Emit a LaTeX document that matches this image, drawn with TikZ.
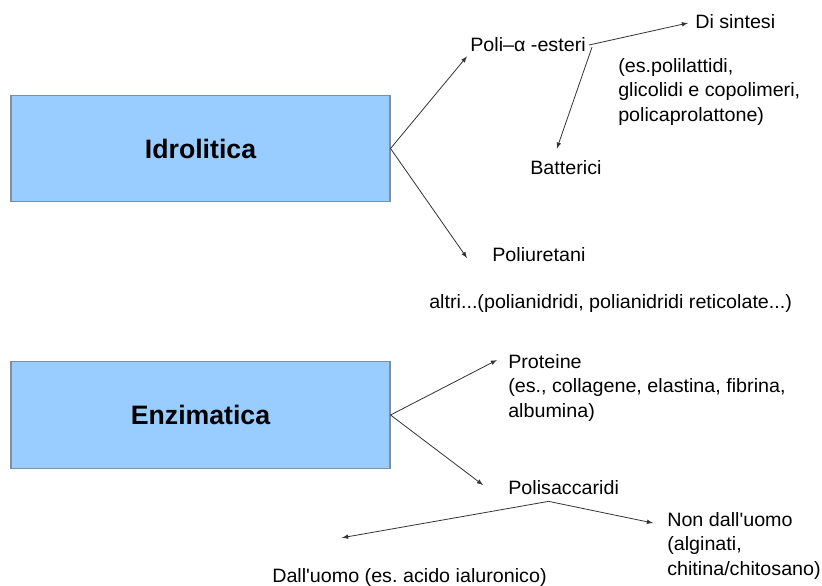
\documentclass[tikz,border=0pt]{standalone}
\usepackage{fontspec}
\setmainfont{Liberation Sans}[FakeStretch=1.02]
\newfontfamily\boxfont{Liberation Sans}
\usetikzlibrary{calc}
\definecolor{boxblue}{HTML}{99CCFF}
\definecolor{boxline}{HTML}{7F8FA0}
\definecolor{arrowgray}{HTML}{333333}
\frenchspacing

\tikzset{
  kindbox/.style={draw=boxline,fill=boxblue,line width=0.8pt,minimum width=284.25pt,minimum height=80pt,font=\boxfont\bfseries\fontsize{20}{24}\selectfont},
  label/.style={anchor=west,inner sep=0pt,font=\fontsize{14.5}{18.5}\selectfont},
  block/.style={anchor=north west,inner sep=0pt,align=left,font=\fontsize{14.5}{18.5}\selectfont},
  branch/.style={->,>=latex,arrowgray,line width=0.6pt},
}

\begin{document}
\begin{tikzpicture}[x=0.75pt,y=-0.75pt]
\useasboundingbox (0,0) rectangle (822,586);
% the two kinds
\node[kindbox] (idro) at (200.5,148.5) {Idrolitica};
\node[kindbox] (enzi) at (200.5,415) {Enzimatica};

% idrolitica
\node[label] (poli) at (470,45) {Poli–α -esteri};
\node[label] (sintesi) at (695,22) {Di sintesi};
\node[block] (es) at (618,58) {(es.polilattidi,\\glicolidi e copolimeri,\\policaprolattone)};
\node[label] (batt) at (530,168) {Batterici};
\node[label] (poliur) at (492,255) {Poliuretani};
\node[label] (altri) at (429,303) {altri...(polianidridi, polianidridi reticolate...)};

\draw[branch] (idro.east) -- ($(poli.south west)+(-3,4)$);
\draw[branch] (idro.east) -- ($(poliur.west)+(-25,3)$);
\draw[branch] ($(poli.east)+(3,0)$) -- ($(sintesi.west)+(-7,1)$);
\draw[branch] ($(poli.east)+(6,2)$) -- ($(batt.north)+(-9,-12)$);

% enzimatica
\node[block] (prot) at (508,354) {Proteine\\(es., collagene, elastina, fibrina,\\albumina)};
\node[label] (polis) at (508,488) {Polisaccaridi};
\node[block] (nondall) at (667,512) {Non dall\textquotesingle uomo\\(alginati,\\chitina/chitosano)};
\node[label] (dall) at (272,577) {Dall\textquotesingle uomo (es. acido ialuronico)};
\coordinate (split) at ($(polis.south)+(-15,6)$);

\draw[branch] (enzi.east) -- ($(prot.north west)+(-11,6)$);
\draw[branch] (enzi.east) -- ($(polis.west)+(-25,-3)$);
\draw[branch] (split) -- ($(dall.north west)+(70,-30)$);
\draw[branch] (split) -- ($(nondall.north west)+(-14,11)$);
\end{tikzpicture}
\end{document}
